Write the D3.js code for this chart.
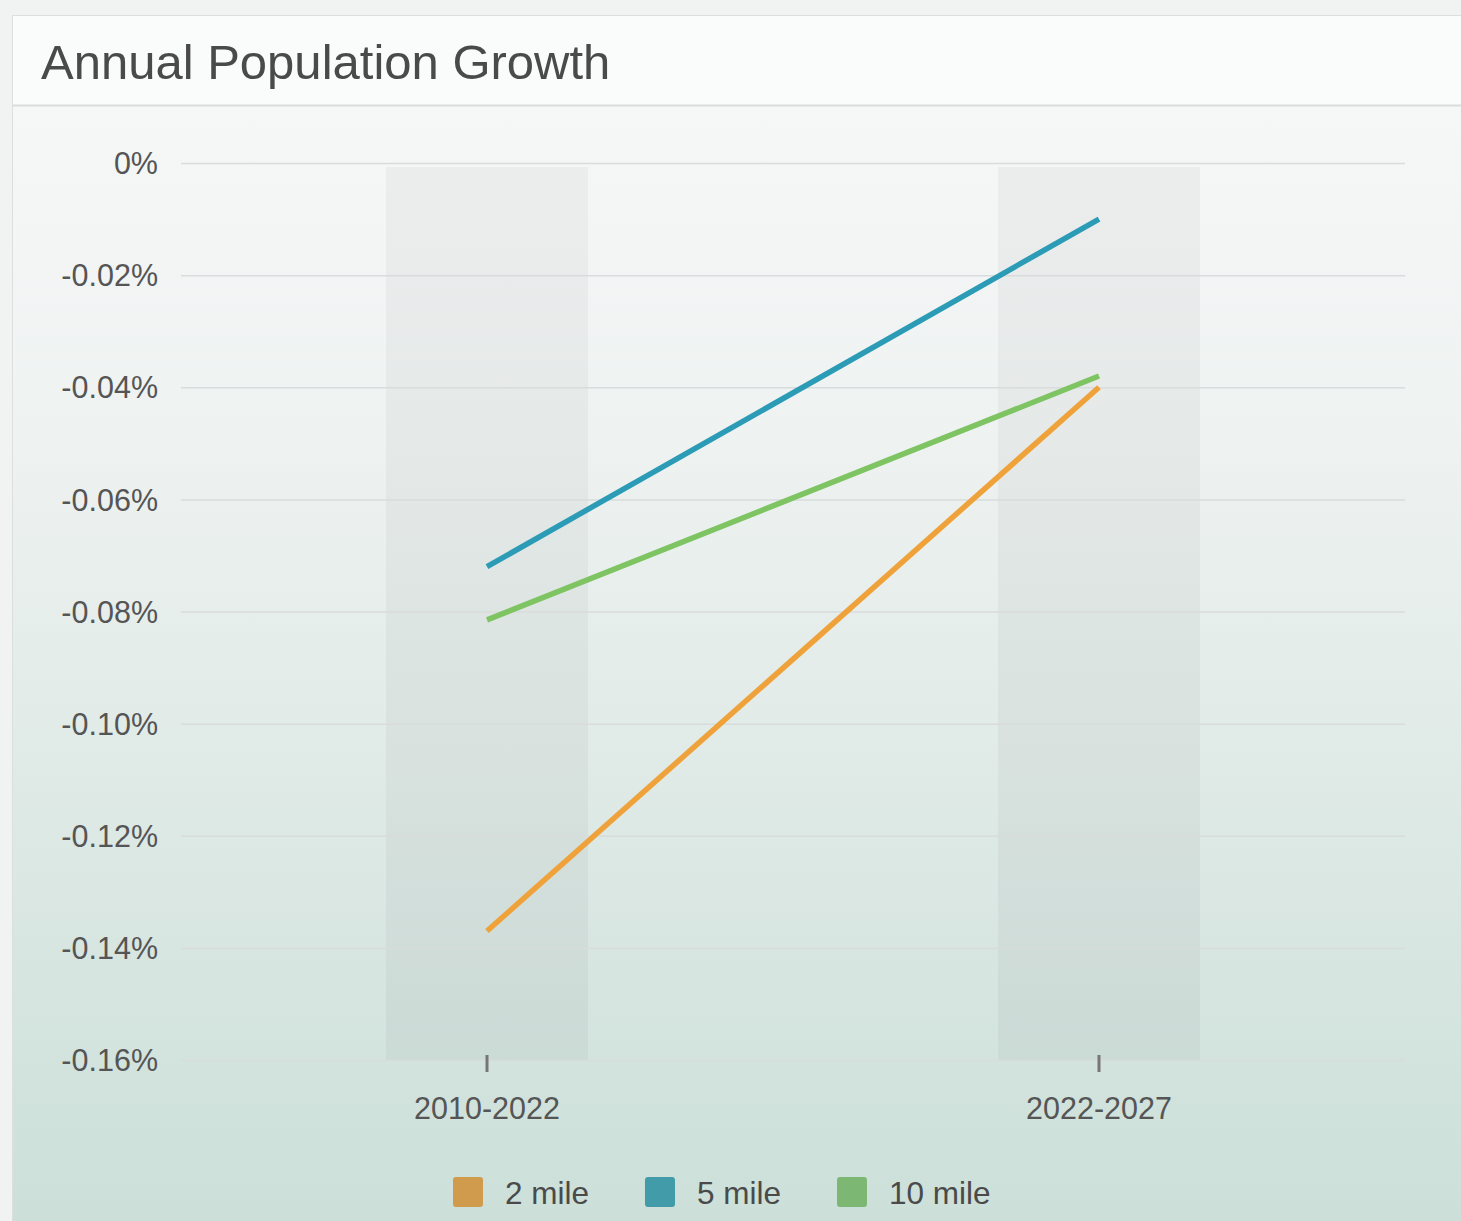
<!DOCTYPE html>
<html><head><meta charset="utf-8">
<script src="https://cdn.jsdelivr.net/npm/d3@7"></script>
<style>
html,body{margin:0;padding:0;background:#f1f2f2;}
svg{display:block;}
</style></head>
<body>
<svg id="chart" width="1461" height="1221"></svg>
<script>
const title = "Annual Population Growth";
const categories = ["2010-2022", "2022-2027"];
const seriesNames = ["2 mile", "5 mile", "10 mile"];
const mile2 = [-0.137, -0.040];
const mile5 = [-0.072, -0.010];
const mile10 = [-0.0815, -0.038];
const lineColors = ["#f0a23a", "#2b9bb6", "#7ec462"];
const legendColors = ["#d09b4c", "#429ba9", "#7cb873"];
const yTicks = [0, -0.02, -0.04, -0.06, -0.08, -0.10, -0.12, -0.14, -0.16];
const yTickLabels = ["0%", "-0.02%", "-0.04%", "-0.06%", "-0.08%", "-0.10%", "-0.12%", "-0.14%", "-0.16%"];
const seriesValues = [mile2, mile5, mile10];

const svg = d3.select("#chart");
const W = 1461, H = 1221;
const font = "'Liberation Sans', Arial, sans-serif";

const defs = svg.append("defs");
const grad = defs.append("linearGradient").attr("id","bg").attr("x1",0).attr("y1",0).attr("x2",0).attr("y2",1);
grad.append("stop").attr("offset","0%").attr("stop-color","#f8f9f9");
grad.append("stop").attr("offset","35%").attr("stop-color","#eef2f1");
grad.append("stop").attr("offset","100%").attr("stop-color","#cbdfd8");

// outer
svg.append("rect").attr("x",0).attr("y",0).attr("width",W).attr("height",H).attr("fill","#f1f2f2");
// panel
svg.append("rect").attr("x",12.5).attr("y",15.5).attr("width",W).attr("height",H).attr("fill","url(#bg)").attr("stroke","#dcdfdf");
// title band
svg.append("rect").attr("x",13).attr("y",16).attr("width",W).attr("height",89).attr("fill","#fafbfb");
svg.append("line").attr("x1",13).attr("x2",W).attr("y1",105.5).attr("y2",105.5).attr("stroke","#d9dcdc").attr("stroke-width",2);
svg.append("text").attr("x",41).attr("y",79).attr("font-family",font).attr("font-size",49)
  .attr("fill","#4a4a4a").text(title);

const x = d3.scaleBand().domain(categories).range([181, 1405]);
const y = d3.scaleLinear().domain([-0.16, 0]).range([1060, 163]);

// shaded columns
svg.append("g").selectAll("rect").data(categories).join("rect")
  .attr("x", d => x(d) + x.bandwidth()*0.5 - 101)
  .attr("width", 202)
  .attr("y", 167)
  .attr("height", y(-0.16) - 167)
  .attr("fill", "rgba(0,0,0,0.035)");

// grid
const yAxis = d3.axisLeft(y).tickValues(yTicks).tickSize(-(1405-181)).tickPadding(23)
  .tickFormat((d,i) => yTickLabels[i]);
const gy = svg.append("g").attr("transform","translate(181,0)").call(yAxis);
gy.select(".domain").remove();
gy.selectAll(".tick line").attr("stroke","#d8dcdc").attr("stroke-width",1.5);
gy.selectAll(".tick text").attr("font-family",font).attr("font-size",30.5).attr("fill","#555").attr("dy","0.35em");

// x axis
const xAxis = d3.axisBottom(x).tickSize(0).tickPadding(0);
const gx = svg.append("g").attr("transform","translate(0,1060)").call(xAxis);
gx.select(".domain").remove();
gx.selectAll(".tick text").attr("font-family",font).attr("font-size",30.5).attr("fill","#555").attr("y",59).attr("dy",0);
gx.selectAll(".tick").append("line").attr("y1",-5).attr("y2",12).attr("stroke","#777").attr("stroke-width",3);

// lines
const line = d3.line().x((d,i) => x(categories[i]) + x.bandwidth()/2).y(d => y(d));
svg.append("g").selectAll("path").data(seriesValues).join("path")
  .attr("d", d => line(d)).attr("fill","none")
  .attr("stroke",(d,i) => lineColors[i]).attr("stroke-width",5.5);

// legend
const legendX = [453, 645, 837];
const lg = svg.append("g").selectAll("g").data(seriesNames).join("g")
  .attr("transform",(d,i) => `translate(${legendX[i]},1177)`);
lg.append("rect").attr("width",30).attr("height",30).attr("rx",3).attr("fill",(d,i) => legendColors[i]);
lg.append("text").attr("x",52).attr("y",27).attr("font-family",font).attr("font-size",31.5).attr("fill","#4a4a4a").text(d => d);
</script>
</body></html>
